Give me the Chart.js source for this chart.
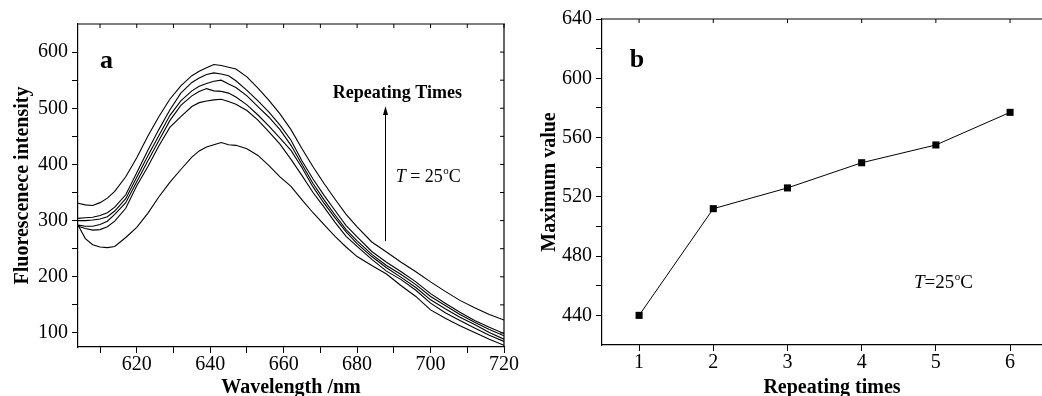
<!DOCTYPE html>
<html>
<head>
<meta charset="utf-8">
<script src="https://cdn.jsdelivr.net/npm/chart.js@4.4.1/dist/chart.umd.min.js"></script>
<style>
  html, body { margin: 0; padding: 0; background: #fff; overflow: hidden; }
  #wrap { position: relative; width: 1042px; height: 396px; overflow: hidden; }
  #chartA { position: absolute; left: 0; top: 0; }
  #chartB { position: absolute; left: 530px; top: 0; }
</style>
</head>
<body>
<div id="wrap">
  <canvas id="chartA" width="530" height="396"></canvas>
  <canvas id="chartB" width="560" height="396"></canvas>
</div>
<script>
// panel a - spectra, one curve per repetition
const wavelengths = [604, 606, 608, 610, 612, 614, 617, 620, 623, 626, 629, 632, 635, 637, 639, 641, 643, 645, 647, 650,
  653, 656, 659, 662, 665, 668, 671, 674, 677, 680, 684, 688, 692, 696, 700, 704, 708, 712, 716, 720];
const run1 = [292, 268, 257, 253, 252, 254, 270, 288, 313, 342, 368, 391, 413, 424, 431, 435, 439, 435, 434, 428,
  416, 398, 378, 361, 337, 314, 293, 272, 253, 236, 220, 205, 184, 165, 141, 126, 113, 101, 89, 78];
const run2 = [290, 286, 283, 284, 289, 299, 322, 362, 396, 433, 466, 485, 503, 510, 513, 515, 516, 512, 507, 496,
  479, 458, 436, 409, 380, 350, 324, 297, 272, 254, 231, 210, 195, 176, 153, 136, 122, 109, 96, 85];
const run3 = [292, 290, 290, 293, 299, 311, 332, 369, 406, 442, 478, 505, 522, 530, 535, 531, 530, 527, 520, 506,
  488, 468, 447, 425, 394, 360, 331, 305, 280, 259, 236, 216, 199, 181, 159, 143, 128, 115, 101, 89];
const run4 = [300, 300, 301, 303, 307, 317, 339, 377, 415, 451, 487, 513, 531, 539, 544, 548, 550, 543, 537, 522,
  503, 484, 462, 434, 400, 366, 337, 310, 284, 264, 240, 220, 204, 186, 165, 149, 133, 119, 106, 95];
const run5 = [304, 305, 306, 309, 314, 324, 346, 385, 425, 462, 497, 527, 546, 554, 560, 563, 561, 558, 549, 532,
  513, 493, 470, 443, 406, 374, 345, 318, 291, 271, 245, 226, 209, 191, 170, 153, 137, 122, 110, 99];
const run6 = [331, 328, 327, 332, 340, 352, 378, 412, 450, 485, 516, 540, 558, 566, 572, 578, 576, 573, 570, 556,
  536, 514, 490, 462, 428, 396, 366, 338, 311, 289, 262, 244, 226, 209, 191, 174, 158, 145, 133, 123];
const waveTicks = [610, 620, 630, 640, 650, 660, 670, 680, 690, 700, 710, 720];
const intensityTicks = [100, 150, 200, 250, 300, 350, 400, 450, 500, 550, 600];

// panel b - peak value vs repetition
const repeats = [1, 2, 3, 4, 5, 6];
const maxValues = [440, 512, 526, 543, 555, 577];
const repeatTicks = [1, 2, 3, 4, 5, 6];
const maxTicks = [440, 460, 480, 500, 520, 540, 560, 580, 600, 620, 640];

const SERIF = "'Liberation Serif', 'Times New Roman', serif";
const tickFont = { family: SERIF, size: 20 };
const titleFont = { family: SERIF, size: 20, weight: 'bold' };

// top / right frame lines with small inward ticks
function frame(showRight) {
  return {
    id: 'frame',
    afterDraw(chart) {
      const { ctx, chartArea: a, scales } = chart;
      ctx.save();
      ctx.strokeStyle = '#000';
      ctx.lineWidth = 1.2;
      ctx.beginPath();
      ctx.moveTo(a.left, a.top); ctx.lineTo(a.right + 1, a.top);
      if (showRight) { ctx.moveTo(a.right, a.top); ctx.lineTo(a.right, a.bottom); }
      ctx.stroke();
      ctx.lineWidth = 1;
      ctx.beginPath();
      scales.x.ticks.forEach(t => {
        const px = scales.x.getPixelForValue(t.value);
        ctx.moveTo(px, a.top); ctx.lineTo(px, a.top + 4);
      });
      if (showRight) {
        scales.y.ticks.forEach(t => {
          const py = scales.y.getPixelForValue(t.value);
          ctx.moveTo(a.right, py); ctx.lineTo(a.right - 4, py);
        });
      }
      ctx.stroke();
      ctx.restore();
    }
  };
}

// "T = 25 oC" with italic T and raised o
function drawTemp(ctx, x, y, size, spaced) {
  ctx.textBaseline = 'alphabetic';
  ctx.textAlign = 'left';
  ctx.font = `italic ${size}px ${SERIF}`;
  ctx.fillText('T', x, y);
  x += ctx.measureText('T').width;
  ctx.font = `${size}px ${SERIF}`;
  const mid = spaced ? ' = 25' : '=25';
  ctx.fillText(mid, x, y);
  x += ctx.measureText(mid).width;
  ctx.font = `${Math.round(size * 0.6)}px ${SERIF}`;
  ctx.fillText('o', x + 0.5, y - size * 0.42);
  x += ctx.measureText('o').width + 0.5;
  ctx.font = `${size}px ${SERIF}`;
  ctx.fillText('C', x, y);
}

const notesA = {
  id: 'notesA',
  afterDraw(chart) {
    const { ctx, scales: { x, y } } = chart;
    ctx.save();
    ctx.fillStyle = '#000';
    ctx.strokeStyle = '#000';
    ctx.font = `bold 26px ${SERIF}`;
    ctx.fillText('a', x.getPixelForValue(610), y.getPixelForValue(572));
    ctx.font = `bold 18px ${SERIF}`;
    ctx.fillText('Repeating Times', x.getPixelForValue(673.4), y.getPixelForValue(518.5));
    const ax = Math.round(x.getPixelForValue(687.5)) + 0.5;
    const y0 = y.getPixelForValue(263.5), y1 = y.getPixelForValue(504);
    ctx.lineWidth = 1;
    ctx.beginPath(); ctx.moveTo(ax, y0); ctx.lineTo(ax, y1 + 6); ctx.stroke();
    ctx.beginPath(); ctx.moveTo(ax, y1); ctx.lineTo(ax - 2.5, y1 + 9); ctx.lineTo(ax + 2.5, y1 + 9); ctx.closePath(); ctx.fill();
    drawTemp(ctx, x.getPixelForValue(690.5), y.getPixelForValue(369), 18, true);
    ctx.restore();
  }
};

const notesB = {
  id: 'notesB',
  afterDraw(chart) {
    const { ctx, scales: { x, y } } = chart;
    ctx.save();
    ctx.fillStyle = '#000';
    ctx.font = `bold 26px ${SERIF}`;
    ctx.fillText('b', x.getPixelForValue(0.875), y.getPixelForValue(607.8));
    drawTemp(ctx, x.getPixelForValue(4.705), y.getPixelForValue(458.7), 19, false);
    ctx.restore();
  }
};

function axisX(opts) {
  return {
    type: 'linear', min: opts.min, max: opts.max,
    afterBuildTicks: s => { s.ticks = opts.ticks.map(v => ({ value: v })); },
    afterFit: s => { s.height = opts.height; },
    grid: { drawOnChartArea: false, drawTicks: true, tickLength: 6, color: '#000', lineWidth: 1 },
    border: { display: true, color: '#000', width: 1.2 },
    ticks: { callback: opts.label, font: tickFont, color: '#000', padding: 0, maxRotation: 0, autoSkip: false },
    title: { display: true, text: opts.title, font: titleFont, color: '#000', padding: { top: 0, bottom: -4 } }
  };
}

function axisY(opts) {
  return {
    type: 'linear', min: opts.min, max: opts.max,
    afterBuildTicks: s => { s.ticks = opts.ticks.map(v => ({ value: v })); },
    afterFit: s => { s.width = opts.width; },
    grid: { drawOnChartArea: false, drawTicks: true, tickLength: 6, color: '#000', lineWidth: 1 },
    border: { display: true, color: '#000', width: 1.2 },
    ticks: { callback: opts.label, font: tickFont, color: '#000', padding: 4, autoSkip: false },
    title: { display: true, text: opts.title, font: titleFont, color: '#000', padding: { top: opts.titlePad, bottom: 0 } }
  };
}

const runs = [run1, run2, run3, run4, run5, run6];

new Chart(document.getElementById('chartA'), {
  type: 'line',
  data: {
    datasets: runs.map((r, i) => ({
      label: 'run ' + (i + 1),
      data: wavelengths.map((w, j) => ({ x: w, y: r[j] })),
      borderColor: '#000', borderWidth: 1.1, pointRadius: 0, tension: 0, fill: false
    }))
  },
  options: {
    responsive: false, animation: false,
    layout: { padding: { left: 0, right: 26, top: 24, bottom: 0 } },
    plugins: { legend: { display: false }, tooltip: { enabled: false } },
    scales: {
      x: axisX({ min: 604, max: 720, ticks: waveTicks, height: 49, title: 'Wavelength /nm',
        label: v => (v % 20 === 0 ? v : '') }),
      y: axisY({ min: 75, max: 650, ticks: intensityTicks, width: 78, title: 'Fluorescenece intensity', titlePad: 11,
        label: v => (v % 100 === 0 ? v : '') })
    }
  },
  plugins: [frame(true), notesA]
});

new Chart(document.getElementById('chartB'), {
  type: 'line',
  data: {
    datasets: [{
      label: 'Maximum value',
      data: repeats.map((r, i) => ({ x: r, y: maxValues[i] })),
      borderColor: '#000', borderWidth: 1, tension: 0,
      pointStyle: 'rect', pointRadius: 5, pointBackgroundColor: '#000', pointBorderColor: '#000', pointBorderWidth: 0
    }]
  },
  options: {
    responsive: false, animation: false,
    layout: { padding: { left: 0, right: 28, top: 19, bottom: 0 } },
    plugins: { legend: { display: false }, tooltip: { enabled: false } },
    scales: {
      x: axisX({ min: 0.5, max: 6.7, ticks: repeatTicks, height: 51, title: 'Repeating times', label: v => v }),
      y: axisY({ min: 420, max: 640, ticks: maxTicks, width: 72, title: 'Maximum value', titlePad: 8,
        label: v => (v % 40 === 0 ? v : '') })
    }
  },
  plugins: [frame(false), notesB]
});
</script>
</body>
</html>
